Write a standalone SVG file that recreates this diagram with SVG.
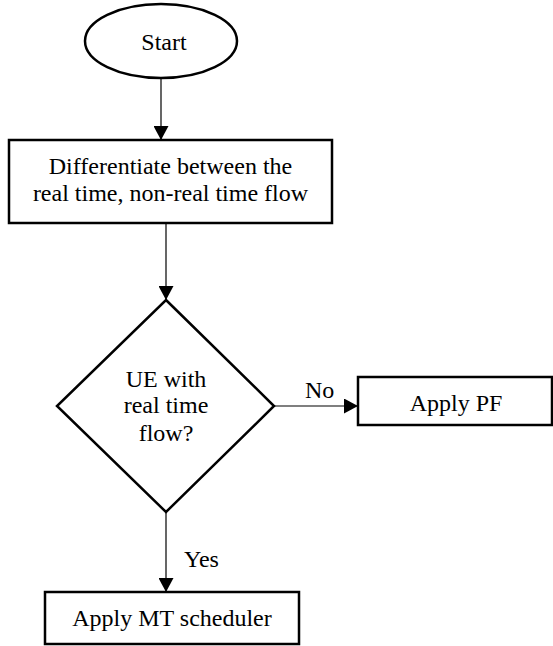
<svg xmlns="http://www.w3.org/2000/svg" width="553" height="646" viewBox="0 0 553 646">
<defs>
<marker id="arr" markerWidth="15" markerHeight="15" viewBox="0 0 15 15" refX="14" refY="7.5" orient="auto" markerUnits="userSpaceOnUse">
<path d="M0,0 L14,7.5 L0,15 Z" fill="#000"/>
</marker>
</defs>
<style>
text{font-size:24px;fill:#000;text-anchor:middle}
.shape{fill:#fff;stroke:#000;stroke-width:2.5}
.conn{fill:none;stroke:#000;stroke-width:1.2;marker-end:url(#arr)}
.lbl{text-anchor:start}
</style>
<rect width="553" height="646" fill="#fff"/>
<g font-family="Liberation Serif, Times New Roman, DejaVu Serif, Noto Serif, serif">
<g id="connectors">
<line class="conn" x1="161" y1="78" x2="161" y2="140"/>
<line class="conn" x1="166" y1="223" x2="166" y2="300"/>
<line class="conn" x1="274" y1="406" x2="358" y2="406"/>
<line class="conn" x1="166" y1="512" x2="166" y2="592"/>
<text class="lbl" x="305" y="398">No</text>
<text class="lbl" x="184" y="567">Yes</text>
</g>
<g id="start">
<ellipse class="shape" cx="161" cy="41" rx="76" ry="37"/>
<text x="164" y="50">Start</text>
</g>
<g id="differentiate">
<rect class="shape" x="9" y="140" width="323" height="83"/>
<text x="170.5" y="174">Differentiate between the</text>
<text x="170.5" y="201">real time, non-real time flow</text>
</g>
<g id="decision">
<polygon class="shape" stroke-width="2" points="166,300 274,406 166,512 57,406"/>
<text x="166" y="387">UE with</text>
<text x="166" y="413">real time</text>
<text x="166" y="441">flow?</text>
</g>
<g id="apply-pf">
<rect class="shape" x="358" y="377" width="194" height="48"/>
<text x="456" y="411">Apply PF</text>
</g>
<g id="apply-mt">
<rect class="shape" x="45" y="592" width="254" height="52"/>
<text x="172" y="626">Apply MT scheduler</text>
</g>
</g>
</svg>
